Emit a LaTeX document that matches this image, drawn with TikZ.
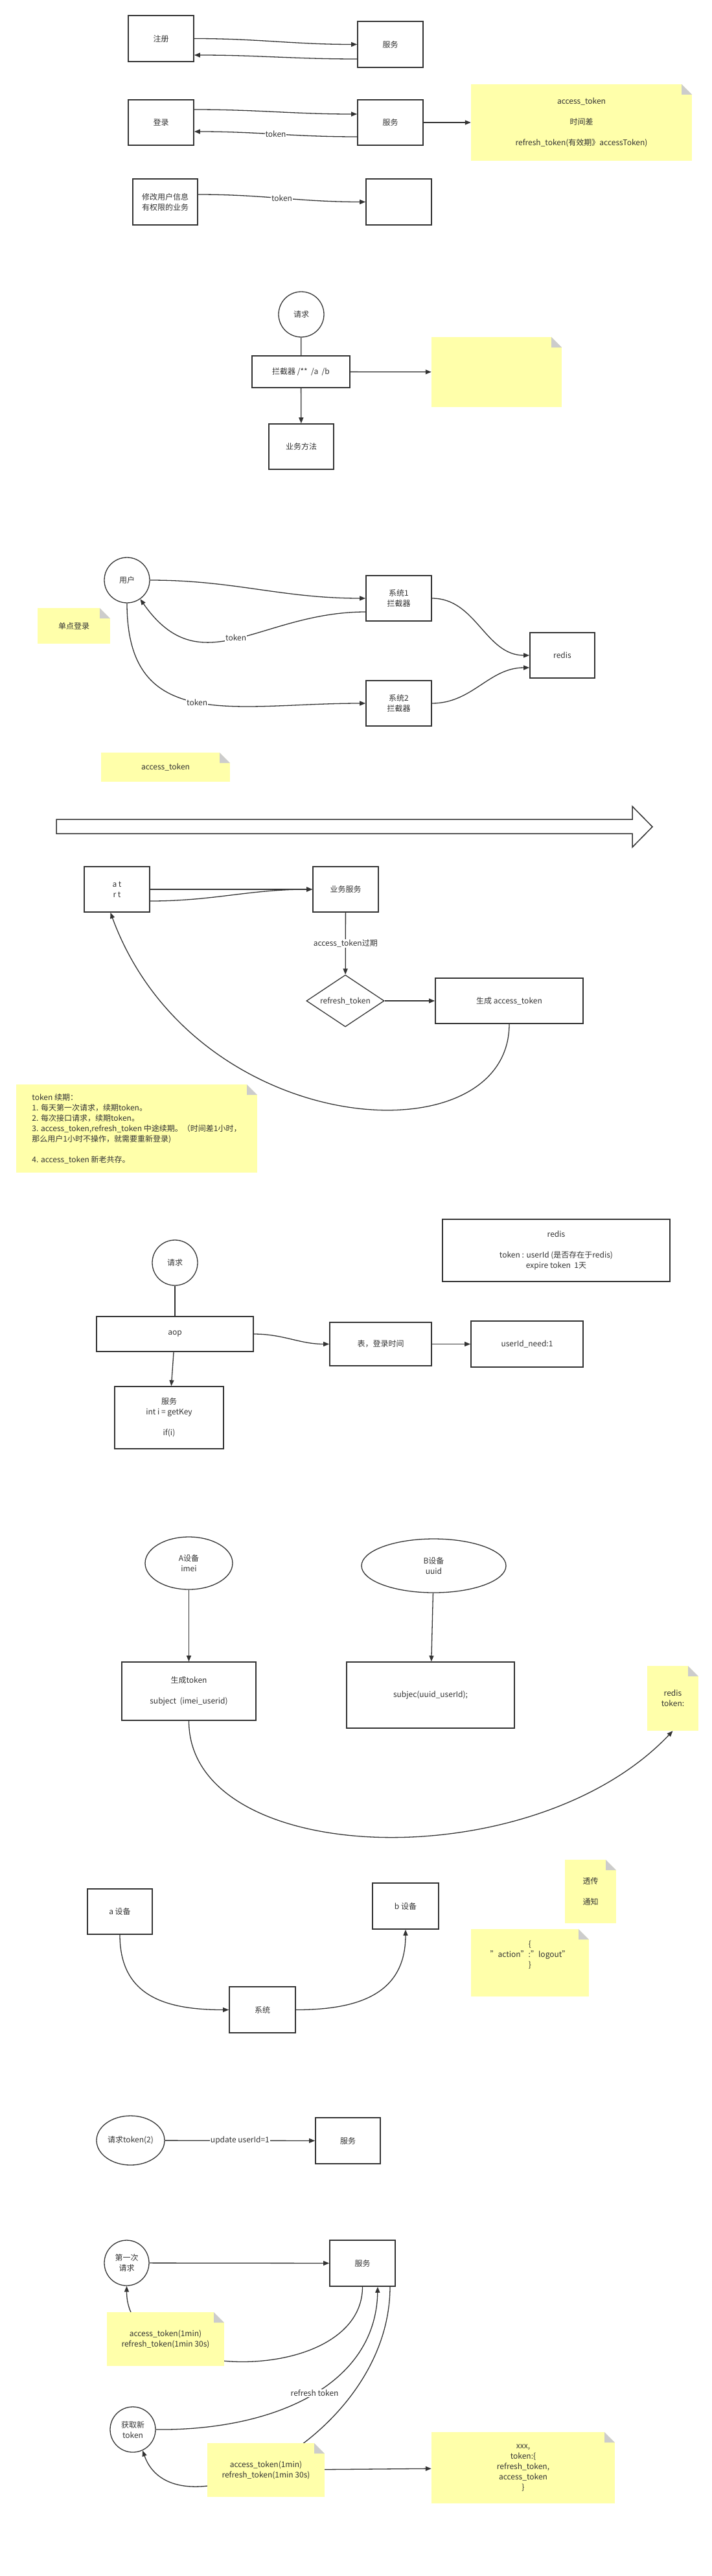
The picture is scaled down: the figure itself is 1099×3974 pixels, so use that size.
\documentclass[tikz,border=0pt]{standalone}
\usepackage{fontspec}
\setmainfont{Noto Sans CJK SC}
\usepackage{tikz}
\usetikzlibrary{shapes.geometric, arrows.meta}
\definecolor{ink}{HTML}{333333}
\definecolor{memoy}{HTML}{FFFFAA}
\definecolor{memoc}{HTML}{CCCCCC}

\begin{document}
\begin{tikzpicture}[x=1pt,y=-1pt,>={Triangle[length=9pt,width=7pt]},
    every node/.style={font=\fontsize{12}{16}\selectfont,text=ink},
    box/.style={draw=ink,line width=1.6pt,fill=white,align=center,inner sep=2pt,minimum width=101pt,minimum height=71pt},
    ell/.style={ellipse,draw=ink,line width=1.3pt,fill=white,align=center,inner sep=1pt,minimum width=70pt,minimum height=70pt},
    memo/.style={fill=memoy,align=center,inner sep=0pt,path picture={
        \fill[white] ([xshift=-16pt]path picture bounding box.north east) -- (path picture bounding box.north east) -- ([yshift=-16pt]path picture bounding box.north east) -- cycle;
        \fill[memoc] ([xshift=-16pt]path picture bounding box.north east) -- ([xshift=-16pt,yshift=-16pt]path picture bounding box.north east) -- ([yshift=-16pt]path picture bounding box.north east) -- cycle;}},
    link/.style={draw=ink,line width=1.3pt},
    lbl/.style={fill=white,inner sep=1pt}]
\useasboundingbox (0,0) rectangle (1099,3974);
%------------------------------
% register / login
%______________________________
\node[box] (reg) at (248.5,59.5) {注册};
\node[box] (svcA) at (602.5,68.5) {服务};
\draw[link,->] (reg.east) to[out=0,in=180] (svcA.west);
\draw[link,->] ([yshift=-22.5pt]svcA.west) to[out=180,in=0] ([yshift=-25.5pt]reg.east);
%
\node[box,minimum height=70pt] (login) at (248.5,189) {登录};
\node[box,minimum height=70pt] (svcB) at (602.5,189) {服务};
\node[memo,minimum width=341pt,minimum height=118pt] (tip) at (897.5,189)
    {access\_token\\[16pt]时间差\\[16pt]refresh\_token(有效期》accessToken)};
\draw[link,->] ([yshift=20pt]login.east) to[out=0,in=180] ([yshift=13pt]svcB.west);
\draw[link,->] ([yshift=-22pt]svcB.west) to[out=180,in=0] node[lbl]{token} ([yshift=-14pt]login.east);
\draw[link,->] (svcB) -- (tip);
%
\node[box,minimum width=100pt] (modify) at (255,311.5) {修改用户信息\\有权限的业务};
\node[box] (blank) at (615.5,311.5) {};
\draw[link,->] ([yshift=11.5pt]modify.east) to[out=0,in=180] node[lbl]{token} (blank.west);
%------------------------------
% interceptor
%______________________________
\node[ell] (ask) at (465,485) {请求};
\node[box,minimum width=151pt,minimum height=49pt] (intc) at (464.5,573.5) {拦截器 /**\ \ /a\ \ /b};
\node[box,minimum width=100pt,minimum height=70pt] (biz) at (465,689) {业务方法};
\node[memo,minimum width=201pt,minimum height=108pt] (idea) at (766.5,574) {};
\draw[link] (ask) -- (intc);
\draw[link,->] (intc) -- (biz);
\draw[link,->] (intc) -- (idea);
%------------------------------
% single sign on
%______________________________
\node[ell] (user) at (196,895) {用户};
\node[box,minimum height=70pt] (sys1) at (615.5,923) {系统1\\拦截器};
\node[box,minimum height=70pt] (sys2) at (615.5,1085) {系统2\\拦截器};
\node[box,minimum width=100pt,minimum height=70pt] (rds) at (868,1011) {redis};
\node[memo,minimum width=112pt,minimum height=55pt] (sso) at (114,965.5) {单点登录};
\node[memo,minimum width=199pt,minimum height=45pt] (atk) at (255.5,1183.5) {access\_token};
\draw[link,->] (user.east) to[out=0,in=180] (sys1.west);
\draw[link,->] ([yshift=-21pt]sys1.west) to[out=180,in=-55,looseness=1.2] node[lbl]{token} (user.-55);
\draw[link,->] (user.south) to[out=-90,in=180,looseness=1.3] node[lbl]{token} (sys2.west);
\draw[link,->] (sys1.east) to[out=0,in=180] (rds.west);
\draw[link,->] (sys2.east) to[out=0,in=180] ([yshift=-19pt]rds.west);
%------------------------------
% refresh token
%______________________________
\draw[ink,line width=1.5pt,fill=white] (87,1264) -- (976,1264) -- (976,1244) -- (1007,1275.5) -- (976,1307) -- (976,1286) -- (87,1286) -- cycle;
\node[box,minimum height=70pt] (atrt) at (180.5,1372) {a t\\r t};
\node[box,minimum height=70pt] (bizsvc) at (533.5,1372) {业务服务};
\node[diamond,draw=ink,line width=1.3pt,aspect=1.5,inner sep=0pt,minimum width=120pt,minimum height=80pt] (chk) at (533,1544) {refresh\_token};
\node[box,minimum width=228pt,minimum height=70pt] (gen) at (786,1544) {生成 access\_token};
\draw[link,->] (atrt.east) -- (bizsvc.west);
\draw[link,->] ([yshift=-18pt]atrt.east) to[out=0,in=180] (bizsvc.west);
\draw[link,->] (bizsvc) -- node[lbl]{access\_token过期} (chk);
\draw[link,->] (chk) -- (gen);
\draw[link,->] (gen.south) .. controls +(0,211) and +(130,353) .. ([xshift=-10pt]atrt.south);
\node[memo,minimum width=372pt,minimum height=136pt,align=left] (renew) at (211,1741)
    {token 续期：%
\\1. 每天第一次请求，续期token。%
\\2. 每次接口请求，续期token。%
\\3. access\_token,refresh\_token 中途续期。（时间差1小时，%
\\那么用户1小时不操作，就需要重新登录)%
\\[16pt]4. access\_token 新老共存。};
%------------------------------
% aop
%______________________________
\node[ell] (ask2) at (270,1948) {请求};
\node[box,minimum width=242pt,minimum height=54pt] (aop) at (270,2058) {aop};
\node[box,minimum width=168pt,minimum height=96pt] (svc3) at (261,2187) {服务\\int i = getKey\\[16pt]if(i)};
\node[box,minimum width=157pt,minimum height=67pt] (tbl) at (587.5,2073.5) {表，登录时间};
\node[box,minimum width=173pt,minimum height=71pt] (need) at (813.5,2073.5) {userId\_need:1};
\node[box,minimum width=351pt,minimum height=96pt] (rds2) at (858.5,1929)
    {redis\\[16pt]token : userId (是否存在于redis)\\expire token\ \ 1天};
\draw[link] (ask2) -- (aop);
\draw[link,->] (aop) -- (svc3);
\draw[link,->] (aop.east) to[out=0,in=180] (tbl.west);
\draw[link,->] (tbl) -- (need);
%------------------------------
% devices
%______________________________
\node[ell,minimum width=135pt,minimum height=81pt] (devA) at (291.5,2411.5) {A设备\\imei};
\node[ell,minimum width=223pt,minimum height=83pt] (devB) at (669.5,2415.5) {B设备\\uuid};
\node[box,minimum width=207pt,minimum height=90pt] (gentk) at (291.5,2609) {生成token\\[16pt]subject\ \ (imei\_userid)};
\node[box,minimum width=259pt,minimum height=102pt] (subj) at (664.5,2615) {subjec(uuid\_userId);};
\node[memo,minimum width=79pt,minimum height=100pt] (redtk) at (1038.5,2620) {redis\\token:};
\draw[link,->] (devA) -- (gentk);
\draw[link,->] (devB) -- (subj);
\draw[link,->] (gentk.south) .. controls +(0,226) and +(-218,230) .. (redtk.south);
%
\node[box,minimum width=100pt,minimum height=70pt] (adev) at (185,2949) {a 设备};
\node[box,minimum width=102pt] (bdev) at (626,2940.5) {b 设备};
\node[box,minimum width=102pt] (sysc) at (405,3100.5) {系统};
\node[memo,minimum width=79pt,minimum height=98pt] (push) at (911.5,2918) {透传\\[16pt]通知};
\node[memo,minimum width=182pt,minimum height=104pt] (json) at (818,3028) {\{\\"action":"logout"\\\}\\[10pt]};
\draw[link,->] (adev.south) to[out=-90,in=180,looseness=1.2] (sysc.west);
\draw[link,->] (sysc.east) to[out=0,in=-90,looseness=1.2] (bdev.south);
%
\node[ell,minimum width=105pt,minimum height=76pt] (ask3) at (201.5,3302) {请求token(2)};
\node[box,minimum width=100pt] (svc4) at (537,3302.5) {服务};
\draw[link,->] (ask3) -- node[lbl]{update userId=1} (svc4);
%------------------------------
% first request / new token
%______________________________
\node[ell,minimum width=69pt] (first) at (195.5,3491) {第一次\\请求};
\node[box] (svc5) at (559.5,3491.5) {服务};
\node[ell] (newtk) at (205,3748) {获取新\\token};
\draw[link,->] (first) -- (svc5);
\draw[link,->] (svc5.south) .. controls +(0,153) and +(0,154) .. (first.south);
\draw[link,->] (newtk.east) .. controls +(180,2) and +(-3,153) .. node[lbl,pos=.52]{refresh token} ([xshift=23.5pt]svc5.south);
\draw[link,->] ([xshift=42.5pt]svc5.south) .. controls +(0,233) and +(50,140) .. (newtk.-65);
\node[memo,minimum width=181pt,minimum height=83pt] (pair1) at (255.5,3608.5) {access\_token(1min)\\refresh\_token(1min 30s)};
\node[memo,minimum width=181pt,minimum height=83pt] (pair2) at (410.5,3810.5) {access\_token(1min)\\refresh\_token(1min 30s)};
\node[memo,minimum width=283pt,minimum height=110pt] (resp) at (807.5,3807) {xxx,\\token:\{\\refresh\_token,\\access\_token\\\}};
\draw[link,->] (pair2) -- (resp);
\end{tikzpicture}
\end{document}
